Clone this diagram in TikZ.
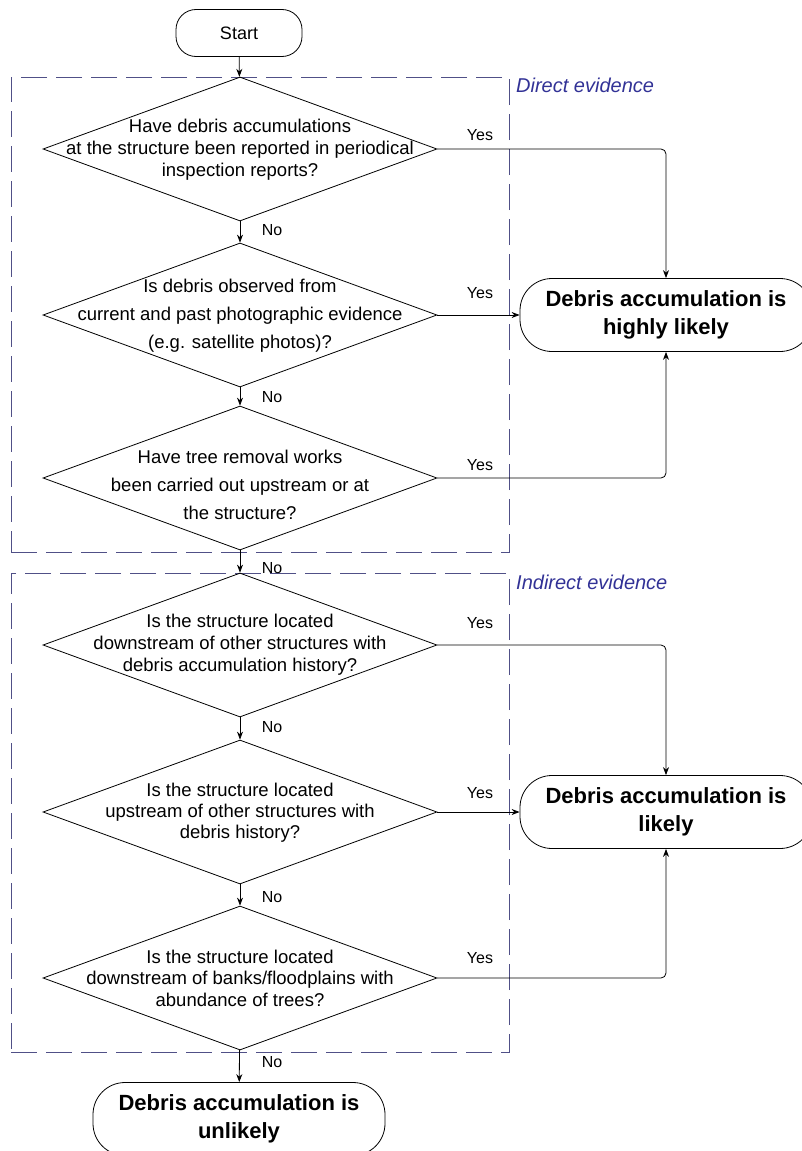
\documentclass[tikz,border=0pt]{standalone}
\usepackage{fontspec}
\setmainfont{Liberation Sans}
\usetikzlibrary{shapes.geometric,arrows.meta}
\definecolor{groupc}{RGB}{80,80,135}
\definecolor{labelc}{RGB}{50,50,150}
\begin{document}
\begin{tikzpicture}[x=1pt,y=-1pt,
 dec/.style={diamond, draw, line width=0.8pt, minimum width=394pt, minimum height=144pt, inner sep=0pt},
 qtext/.style={align=center, inner sep=0pt},
 term/.style={draw, line width=0.8pt, rounded corners=32pt, minimum width=292pt, minimum height=73pt, align=center, font=\fontsize{22}{28}\selectfont\bfseries},
 lbl/.style={font=\fontsize{16}{18}\selectfont, inner sep=0pt},
 conn/.style={line width=0.8pt, -{Stealth[length=8pt,width=6pt]}},
 group/.style={draw=groupc, line width=0.8pt, dash pattern=on 26pt off 9pt, minimum width=498pt, inner sep=0pt},
 grouplbl/.style={text=labelc, font=\fontsize{20}{24}\selectfont\itshape, anchor=west, inner sep=0pt}
]
\useasboundingbox (0,0) rectangle (802,1151);

% groups
\node[group, minimum height=475pt] (direct) at (260,314.5) {};
\node[group, minimum height=479pt] (indirect) at (260,812.5) {};
\node[grouplbl] (directlbl) at (516,85) {Direct evidence};
\node[grouplbl] (indirectlbl) at (516,582) {Indirect evidence};

% start
\node[draw, line width=0.8pt, rounded corners=20pt, minimum width=126pt, minimum height=47pt, font=\fontsize{18}{22}\selectfont] (start) at (239,33) {Start};

% decisions
\node[dec] (d1) at (240,149) {};
\node[qtext, font=\fontsize{18.5}{22}\selectfont] (d1t) at (240,150) {Have debris accumulations\\at the structure been reported in periodical\\inspection reports?};
\node[dec] (d2) at (240,315) {};
\node[qtext, font=\fontsize{18.5}{28}\selectfont] (d2t) at (240,316) {Is debris observed from\\current and past photographic evidence\\(e.g. satellite photos)?};
\node[dec] (d3) at (240,478) {};
\node[qtext, font=\fontsize{18.5}{28}\selectfont] (d3t) at (240,485) {Have tree removal works\\been carried out upstream or at\\the structure?};
\node[dec] (d4) at (240,645) {};
\node[qtext, font=\fontsize{18.5}{22}\selectfont] (d4t) at (240,645) {Is the structure located\\downstream of other structures with\\debris accumulation history?};
\node[dec] (d5) at (240,812) {};
\node[qtext, font=\fontsize{18.5}{21}\selectfont] (d5t) at (240,813) {Is the structure located\\upstream of other structures with\\debris history?};
\node[dec] (d6) at (240,978) {};
\node[qtext, font=\fontsize{18.5}{21.5}\selectfont] (d6t) at (240,978) {Is the structure located\\downstream of banks/floodplains with\\abundance of trees?};

% terminals
\node[term] (highly) at (666,315) {Debris accumulation is\\highly likely};
\node[term] (likely) at (666,812) {Debris accumulation is\\likely};
\node[term] (unlikely) at (239,1119) {Debris accumulation is\\unlikely};

% connectors
\draw[conn] (start) -- (d1);
\draw[conn] (d1) -- (d2);
\draw[conn] (d2) -- (d3);
\draw[conn] (d3) -- (d4);
\draw[conn] (d4) -- (d5);
\draw[conn] (d5) -- (d6);
\draw[conn] (d6) -- (unlikely);
\draw[conn, rounded corners=5pt] (d1.east) -| (highly.north);
\draw[conn] (d2.east) -- (highly.west);
\draw[conn, rounded corners=5pt] (d3.east) -| (highly.south);
\draw[conn, rounded corners=5pt] (d4.east) -| (likely.north);
\draw[conn] (d5.east) -- (likely.west);
\draw[conn, rounded corners=5pt] (d6.east) -| (likely.south);

% labels
\node[lbl] (y1) at (480,135) {Yes};
\node[lbl] (y2) at (480,293) {Yes};
\node[lbl] (y3) at (480,465) {Yes};
\node[lbl] (y4) at (480,623) {Yes};
\node[lbl] (y5) at (480,793) {Yes};
\node[lbl] (y6) at (480,958) {Yes};
\node[lbl] (n1) at (272,230) {No};
\node[lbl] (n2) at (272,397) {No};
\node[lbl] (n3) at (272,568) {No};
\node[lbl] (n4) at (272,727) {No};
\node[lbl] (n5) at (272,897) {No};
\node[lbl] (n6) at (272,1062) {No};
\end{tikzpicture}
\end{document}
